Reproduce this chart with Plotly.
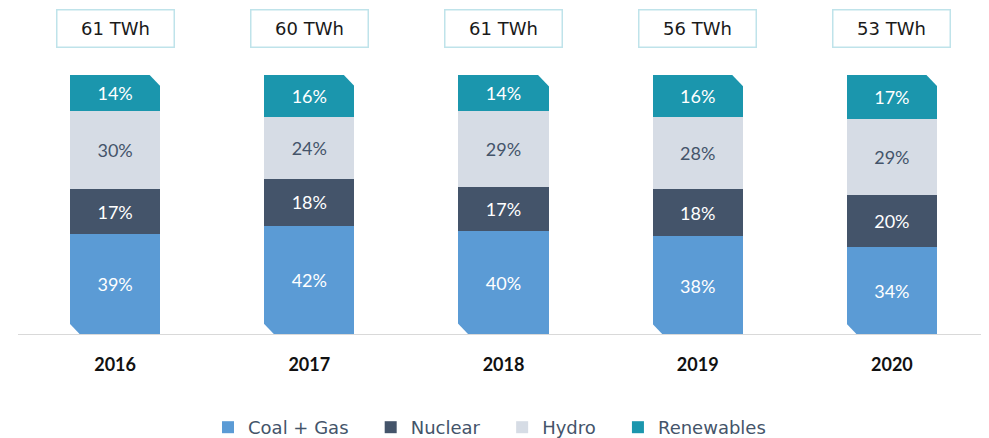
import plotly.graph_objects as go

years = ["2016", "2017", "2018", "2019", "2020"]
totals = ["61 TWh", "60 TWh", "61 TWh", "56 TWh", "53 TWh"]
coal_gas = [39, 42, 40, 38, 34]
nuclear = [17, 18, 17, 18, 20]
hydro = [30, 24, 29, 28, 29]
renewables = [14, 16, 14, 16, 17]

series = [
    ("Coal + Gas", coal_gas, "#5b9bd5", "white"),
    ("Nuclear", nuclear, "#44546a", "white"),
    ("Hydro", hydro, "#d6dce5", "#44546a"),
    ("Renewables", renewables, "#1b96ad", "white"),
]

xpos = list(range(len(years)))
bar_w = 0.464
FONT = "Lato, 'Open Sans', sans-serif"
WIDE = "'DejaVu Sans', sans-serif"
PAD = "\u00a0\u00a0\u00a0"

fig = go.Figure()
for k, (name, vals, col, tcol) in enumerate(series):
    fig.add_trace(go.Bar(
        x=xpos, y=vals, name=name + (PAD if k < len(series) - 1 else ""), width=bar_w,
        marker=dict(color=col, line=dict(width=0)),
        text=[f"{v}%" for v in vals], textposition="inside",
        insidetextanchor="middle",
        textfont=dict(color=tcol, size=18, family=FONT),
        hoverinfo="skip",
    ))

# chamfered corners (white triangles) derived from bar geometry
plot_w_px = 971
plot_h_px = 260
dx = 13 / (plot_w_px / 5)
dy = 13 / plot_h_px * 100
shapes = []
for i in xpos:
    top = coal_gas[i] + nuclear[i] + hydro[i] + renewables[i]
    r = i + bar_w / 2
    l = i - bar_w / 2
    e = 0.01
    shapes.append(dict(type="path", xref="x", yref="y",
                       path=f"M {r-dx},{top+1} L {r+e},{top+1} L {r+e},{top-dy} Z",
                       fillcolor="white", line=dict(width=0), layer="above"))
    shapes.append(dict(type="path", xref="x", yref="y",
                       path=f"M {l-e},{-1} L {l+dx},{-1} L {l-e},{dy} Z",
                       fillcolor="white", line=dict(width=0), layer="above"))
shapes.append(dict(type="line", xref="paper", yref="y", x0=0, x1=1, y0=0, y1=0,
                   line=dict(color="#d9d9d9", width=2), layer="above"))

annotations = []
for i, t in zip(xpos, totals):
    annotations.append(dict(
        x=i, y=1.177, xref="x", yref="paper", text=t, showarrow=False,
        font=dict(size=18, color="#1a1a1a", family=WIDE),
        width=114, height=34, borderpad=1, bordercolor="#bfe3ea", borderwidth=1.5,
        bgcolor="white", xanchor="center", yanchor="middle",
    ))

fig.update_layout(
    width=981, height=438,
    margin=dict(l=10, r=0, t=67, b=111),
    barmode="stack",
    plot_bgcolor="white", paper_bgcolor="white",
    showlegend=True,
    legend=dict(orientation="h", x=0.4856, xanchor="center", y=-0.3577, yanchor="middle",
                font=dict(size=18, color="#44546a", family=WIDE), traceorder="normal"),
    xaxis=dict(range=[-0.5, 4.5], tickvals=xpos, ticktext=years, showgrid=False,
               zeroline=False, showline=False, ticks="", ticklabelstandoff=17,
               tickfont=dict(size=18, color="#111111", family=FONT, weight="bold")),
    yaxis=dict(range=[0, 100], visible=False),
    shapes=shapes,
    annotations=annotations,
    uniformtext=dict(mode="show", minsize=18),
)

fig.write_html("out.html")
